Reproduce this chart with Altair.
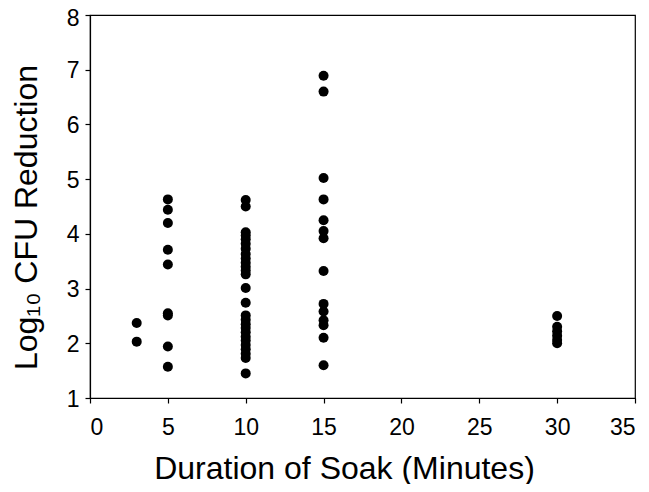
import altair as alt
import pandas as pd

# Data
dur_3 = [2.37, 2.03]
dur_5 = [4.63, 4.44, 4.20, 3.71, 3.44, 2.55, 2.51, 1.94, 1.57]
dur_10 = [4.62, 4.50, 4.03, 3.97, 3.90, 3.82, 3.73, 3.63, 3.55, 3.47, 3.40,
          3.33, 3.26, 3.01, 2.74, 2.51, 2.43, 2.35, 2.28, 2.20, 2.12, 2.05,
          1.97, 1.89, 1.81, 1.73, 1.45]
dur_15 = [6.89, 6.60, 5.02, 4.63, 4.25, 4.05, 3.92, 3.32, 2.72, 2.58, 2.42,
          2.33, 2.10, 1.60]
dur_30 = [2.50, 2.30, 2.22, 2.14, 2.06, 2.00]

x_ticks = [0, 5, 10, 15, 20, 25, 30, 35]
y_ticks = [1, 2, 3, 4, 5, 6, 7, 8]

rows = []
for d, vals in [(3, dur_3), (5, dur_5), (10, dur_10), (15, dur_15), (30, dur_30)]:
    for v in vals:
        rows.append({"duration": d, "reduction": v})
df = pd.DataFrame(rows)

FONT = "Liberation Sans"

chart = alt.Chart(df).mark_circle(color="black", opacity=1, size=100).encode(
    x=alt.X("duration:Q",
            scale=alt.Scale(domain=[0, 35], nice=False),
            axis=alt.Axis(title="Duration of Soak (Minutes)", values=x_ticks,
                          grid=False, tickSize=5, labelPadding=13,
                          titleBaseline="alphabetic", titleX=254, titleY=80,
                          titleAnchor="middle")),
    y=alt.Y("reduction:Q",
            scale=alt.Scale(domain=[1, 8], nice=False, zero=False),
            axis=alt.Axis(title="Log₁₀ CFU Reduction", values=y_ticks,
                          grid=False, tickSize=5, labelPadding=6,
                          labelOffset={"condition": {"test": "datum.value == 8", "value": 3},
                                       "value": 1},
                          titleBaseline="alphabetic", titleX=-54, titleY=202,
                          titleAngle=270, titleAnchor="middle")),
).properties(
    width=545, height=383,
    padding={"left": 82, "top": 7, "right": 6, "bottom": 86},
    autosize=alt.AutoSizeParams(type="none"),
).configure_view(
    stroke="black", strokeWidth=1.2
).configure_axis(
    domainColor="black", tickColor="black", domainWidth=1.2, tickWidth=1.2,
    labelColor="black", titleColor="black",
    labelFont=FONT, titleFont=FONT,
    labelFontSize=23, titleFontSize=32, titleFontWeight="normal",
)

chart.save("out.html", embed_options={"renderer": "svg", "actions": False})
